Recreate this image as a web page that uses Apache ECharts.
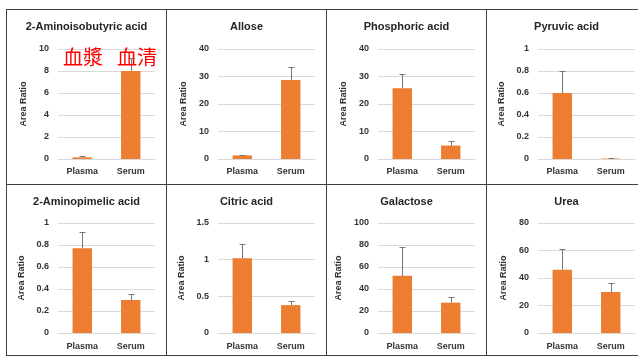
<!DOCTYPE html>
<html><head><meta charset="utf-8">
<script src="https://cdn.jsdelivr.net/npm/echarts@6/dist/echarts.min.js"></script>
<style>
html,body{margin:0;padding:0;width:638px;height:356px;overflow:hidden;background:#fff;position:relative;}
.panel{position:absolute;box-sizing:border-box;border-left:1px solid #404040;border-top:1px solid #404040;}
.panel.bottom{border-bottom:1px solid #404040;}
.chart{position:absolute;left:0;top:0;right:0;bottom:0;}
</style></head><body>
<script>
// ---- data ----
const titles = ['2-Aminoisobutyric acid','Allose','Phosphoric acid','Pyruvic acid',
                '2-Aminopimelic acid','Citric acid','Galactose','Urea'];
const categories = ['Plasma','Serum'];
const plasmaMean = [0.15, 1.3, 25.7, 0.60, 0.77, 1.02, 52, 46];
const serumMean  = [8.0, 28.7, 4.9, 0.004, 0.30, 0.38, 27.6, 29.8];
const plasmaErr  = [0.10, 0.3, 5.2, 0.20, 0.15, 0.20, 26.5, 15];
const serumErr   = [1.2, 4.9, 1.5, 0.003, 0.055, 0.05, 5.4, 6.9];
const yMax      = [10, 40, 40, 1, 1, 1.5, 100, 80];
const yInterval = [2, 10, 10, 0.2, 0.2, 0.5, 20, 20];
const yName = 'Area Ratio';
const annotations = ['血漿', '血清'];

// ---- layout ----
const colLeft = [6, 166, 326, 486];
const rowTop = [9, 184];
const rowH = [175, 172];
const panelW = 160;
const FONT = '"Liberation Sans", Arial, sans-serif';

for (let i = 0; i < 8; i++) {
  const r = Math.floor(i / 4), c = i % 4;
  const p = document.createElement('div');
  p.className = 'panel' + (r === 1 ? ' bottom' : '');
  p.style.left = colLeft[c] + 'px';
  p.style.top = rowTop[r] + 'px';
  p.style.width = panelW + 'px';
  p.style.height = rowH[r] + 'px';
  const d = document.createElement('div');
  d.className = 'chart';
  p.appendChild(d);
  document.body.appendChild(p);
  const chart = echarts.init(d, null, {renderer: 'canvas'});
  const gTop = r === 0 ? 39 : 38;
  const gH = 110;
  const errData = [
    [0, plasmaMean[i], plasmaMean[i] + plasmaErr[i]],
    [1, serumMean[i], serumMean[i] + serumErr[i]]
  ];
  const option = {
    animation: false,
    title: {
      text: titles[i], left: 'center', top: 11, padding: 0,
      textStyle: {fontFamily: FONT, fontSize: 11, fontWeight: 'bold', color: '#262626'}
    },
    grid: {left: 51, top: gTop, width: 97, height: gH, containLabel: false, outerBoundsMode: 'none'},
    xAxis: {
      type: 'category', data: categories,
      axisLine: {show: true, lineStyle: {color: '#d9d9d9', width: 1}},
      axisTick: {show: false},
      axisLabel: {fontFamily: FONT, fontSize: 9, fontWeight: 'bold', color: '#333', margin: r === 0 ? 8 : 9}
    },
    yAxis: {
      type: 'value', min: 0, max: yMax[i], interval: yInterval[i],
      name: yName, nameLocation: 'middle', nameGap: 22,
      nameTextStyle: {fontFamily: FONT, fontSize: 9, fontWeight: 'bold', color: '#333'},
      axisLine: {show: false}, axisTick: {show: false},
      splitLine: {show: true, lineStyle: {color: '#d9d9d9', width: 1}},
      axisLabel: {fontFamily: FONT, fontSize: 9, fontWeight: 'bold', color: '#333', margin: 9}
    },
    series: [
      {
        type: 'bar', data: [plasmaMean[i], serumMean[i]],
        barCategoryGap: '60%',
        itemStyle: {color: '#ED7D31'}
      },
      {
        type: 'custom', data: errData, z: 5,
        renderItem: function (params, api) {
          const x = api.value(0), lo = api.value(1), hi = api.value(2);
          const p1 = api.coord([x, lo]);
          const p2 = api.coord([x, hi]);
          const cx = Math.round(p1[0]) + 0.5;
          const ty = Math.round(p2[1]) + 0.5;
          const st = {stroke: '#767676', lineWidth: 1};
          return {
            type: 'group', children: [
              {type: 'line', shape: {x1: cx, y1: p1[1], x2: cx, y2: ty}, style: st},
              {type: 'line', shape: {x1: cx - 3, y1: ty, x2: cx + 3, y2: ty}, style: st}
            ]
          };
        }
      }
    ]
  };
  if (i === 0) {
    option.graphic = [
      {type: 'text', left: 56, top: 37, z: 10,
       style: {text: annotations[0], fill: '#ff0000', font: '20px "Noto Sans CJK JP"'}},
      {type: 'text', left: 110, top: 37, z: 10,
       style: {text: annotations[1], fill: '#ff0000', font: '20px "Noto Sans CJK JP"'}}
    ];
  }
  chart.setOption(option);
}
</script>
</body></html>
